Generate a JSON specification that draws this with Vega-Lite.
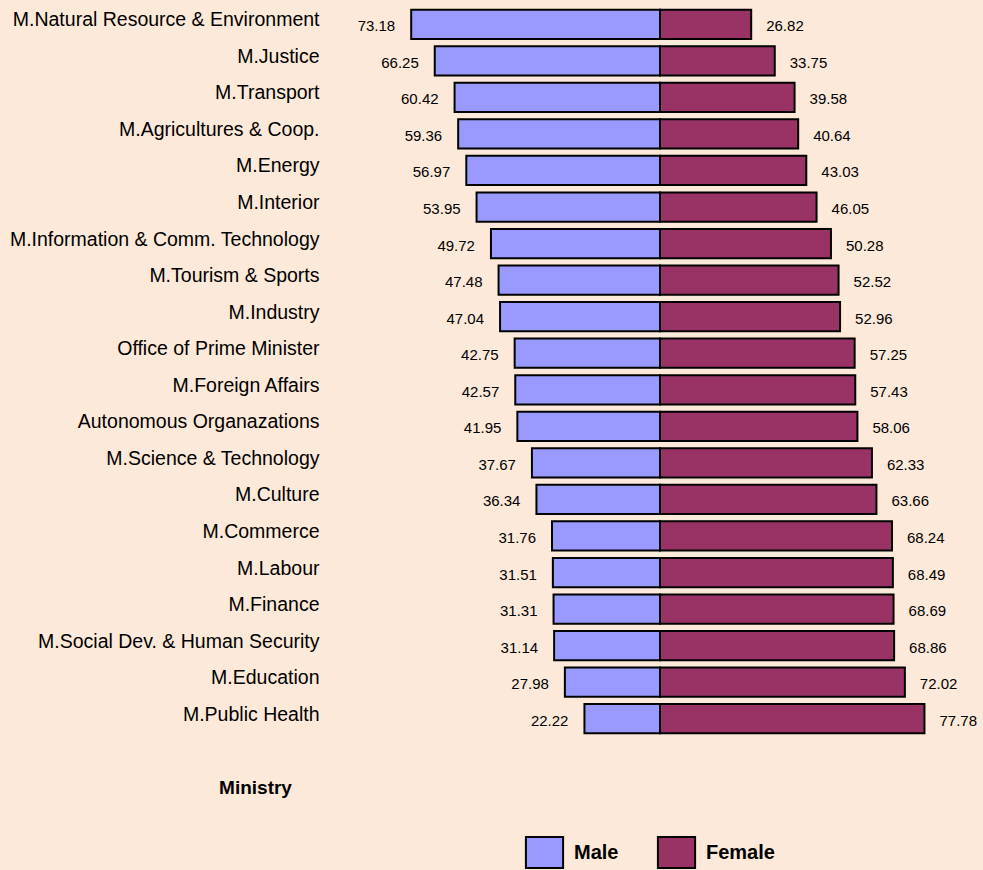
{
  "$schema": "https://vega.github.io/schema/vega-lite/v6.json",
  "width": 544,
  "height": 731,
  "autosize": "none",
  "padding": {"left": 388, "top": 6, "right": 51, "bottom": 133},
  "background": "#FDE9D9",
  "config": {
    "view": {"stroke": null},
    "font": "Liberation Sans",
    "legend": {"padding": 0}
  },
  "data": {
    "values": [
      {"ministry": "M.Natural Resource & Environment", "Male": 73.18, "Female": 26.82},
      {"ministry": "M.Justice", "Male": 66.25, "Female": 33.75},
      {"ministry": "M.Transport", "Male": 60.42, "Female": 39.58},
      {"ministry": "M.Agricultures & Coop.", "Male": 59.36, "Female": 40.64},
      {"ministry": "M.Energy", "Male": 56.97, "Female": 43.03},
      {"ministry": "M.Interior", "Male": 53.95, "Female": 46.05},
      {"ministry": "M.Information & Comm. Technology", "Male": 49.72, "Female": 50.28},
      {"ministry": "M.Tourism & Sports", "Male": 47.48, "Female": 52.52},
      {"ministry": "M.Industry", "Male": 47.04, "Female": 52.96},
      {"ministry": "Office of Prime Minister", "Male": 42.75, "Female": 57.25},
      {"ministry": "M.Foreign Affairs", "Male": 42.57, "Female": 57.43},
      {"ministry": "Autonomous Organazations", "Male": 41.95, "Female": 58.06},
      {"ministry": "M.Science & Technology", "Male": 37.67, "Female": 62.33},
      {"ministry": "M.Culture", "Male": 36.34, "Female": 63.66},
      {"ministry": "M.Commerce", "Male": 31.76, "Female": 68.24},
      {"ministry": "M.Labour", "Male": 31.51, "Female": 68.49},
      {"ministry": "M.Finance", "Male": 31.31, "Female": 68.69},
      {"ministry": "M.Social Dev. & Human Security", "Male": 31.14, "Female": 68.86},
      {"ministry": "M.Education", "Male": 27.98, "Female": 72.02},
      {"ministry": "M.Public Health", "Male": 22.22, "Female": 77.78}
    ]
  },
  "encoding": {
    "y": {
      "field": "ministry",
      "type": "nominal",
      "sort": null,
      "scale": {"paddingInner": 0.2, "paddingOuter": 0.1},
      "axis": {
        "title": "Ministry",
        "titleFontWeight": "bold",
        "titleFontSize": 19,
        "titleColor": "black",
        "titleAngle": 0,
        "titleAlign": "center",
        "titleBaseline": "middle",
        "titleX": -133,
        "titleY": 781,
        "domain": false,
        "ticks": false,
        "labelPadding": 69,
        "labelOffset": -4,
        "labelFontSize": 19.5,
        "labelColor": "black",
        "labelLimit": 400
      }
    }
  },
  "layer": [
    {
      "mark": {"type": "bar", "stroke": "black", "strokeWidth": 2},
      "encoding": {
        "x": {"field": "Male", "type": "quantitative", "scale": {"domain": [80, -80]}, "axis": null},
        "x2": {"datum": 0},
        "color": {
          "datum": "Male",
          "scale": {"domain": ["Male", "Female"], "range": ["#9999FF", "#993366"]},
          "legend": {
            "title": null,
            "orient": "none",
            "direction": "horizontal",
            "legendX": 140,
            "legendY": 830,
            "symbolType": "M-1.2,-1H1.2V1H-1.2Z",
            "symbolSize": 961,
            "symbolStrokeColor": "black",
            "symbolStrokeWidth": 2,
            "symbolOpacity": 1,
            "labelFontSize": 20,
            "labelFontWeight": "bold",
            "labelColor": "black",
            "labelOffset": 13,
            "columnPadding": 34
          }
        }
      }
    },
    {
      "mark": {"type": "bar", "stroke": "black", "strokeWidth": 2},
      "encoding": {
        "x": {"field": "Female", "type": "quantitative", "scale": {"domain": [-80, 80]}, "axis": null},
        "x2": {"datum": 0},
        "color": {"datum": "Female"}
      }
    },
    {
      "mark": {"type": "text", "align": "right", "baseline": "middle", "dx": -16, "dy": 2, "fontSize": 15, "color": "black"},
      "encoding": {
        "x": {"field": "Male", "type": "quantitative", "scale": {"domain": [80, -80]}, "axis": null},
        "text": {"field": "Male", "type": "quantitative", "format": ".2f"}
      }
    },
    {
      "mark": {"type": "text", "align": "left", "baseline": "middle", "dx": 15, "dy": 2, "fontSize": 15, "color": "black"},
      "encoding": {
        "x": {"field": "Female", "type": "quantitative", "scale": {"domain": [-80, 80]}, "axis": null},
        "text": {"field": "Female", "type": "quantitative", "format": ".2f"}
      }
    }
  ],
  "resolve": {"scale": {"x": "independent"}}
}
